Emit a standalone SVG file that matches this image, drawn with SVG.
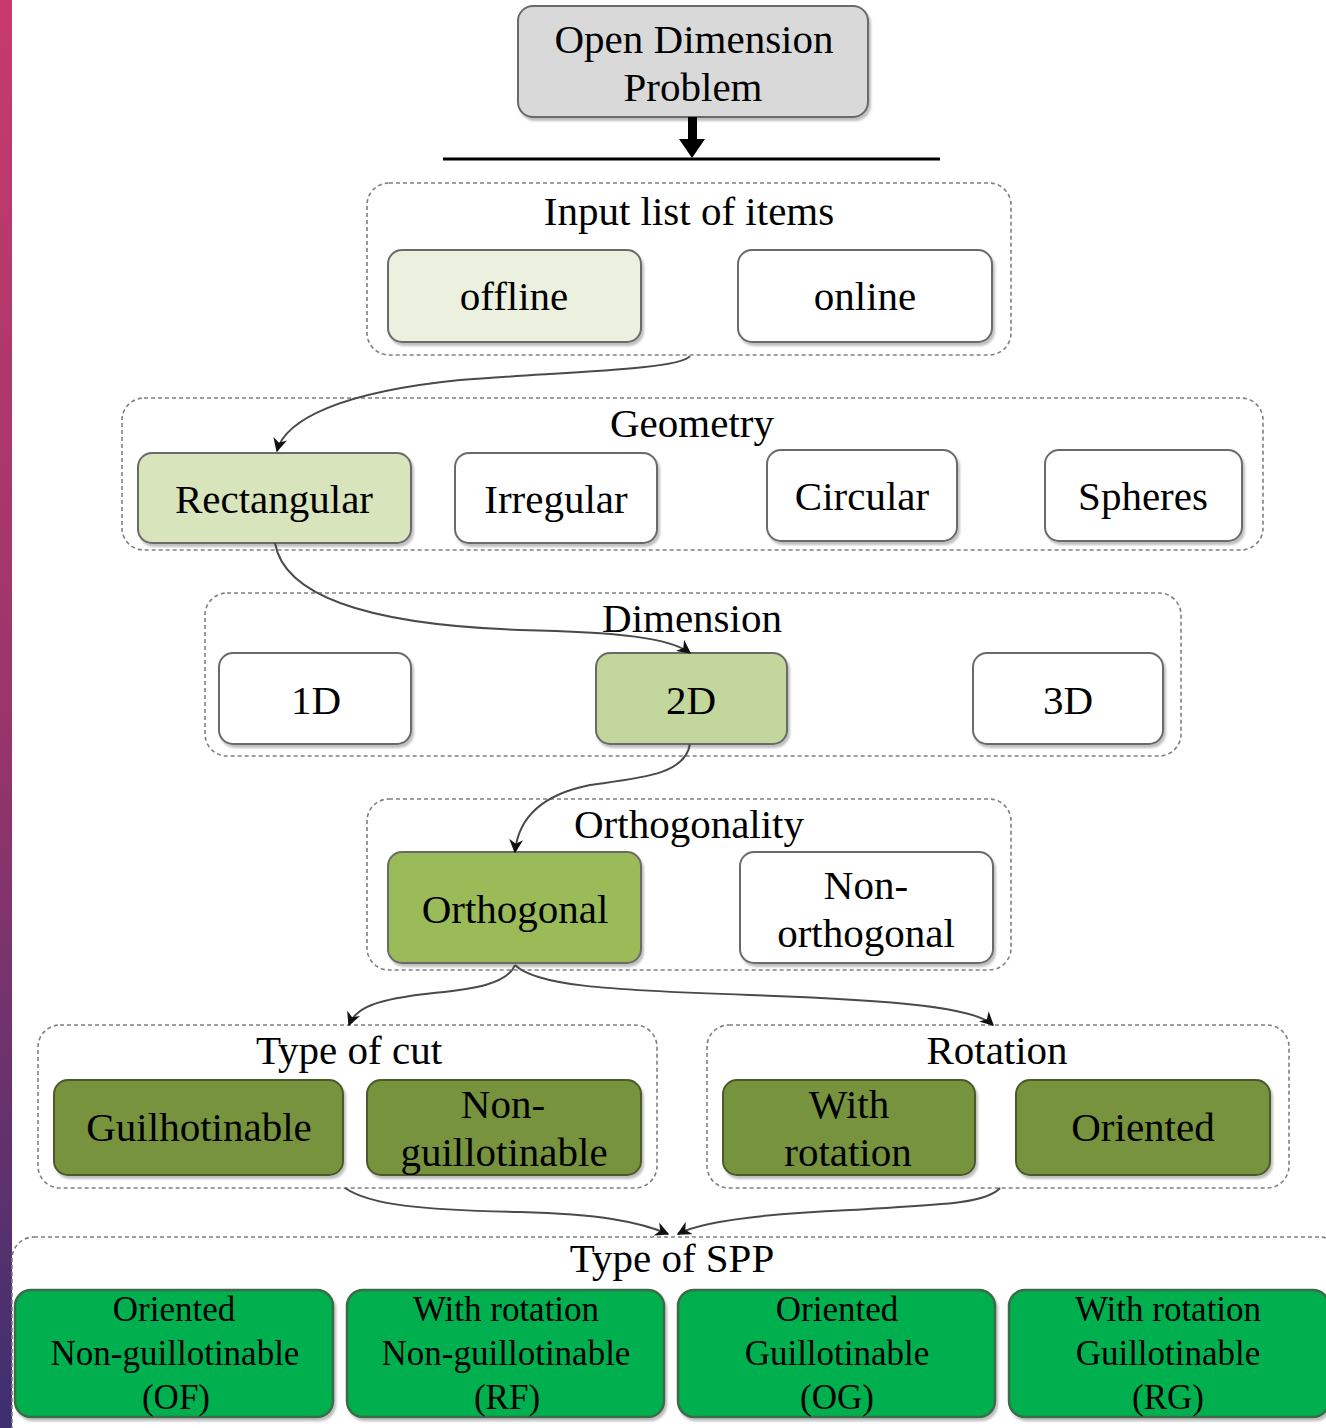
<svg xmlns="http://www.w3.org/2000/svg" width="1326" height="1428" viewBox="0 0 1326 1428">
<defs>
<linearGradient id="strip" x1="0" y1="0" x2="0" y2="1">
<stop offset="0" stop-color="#c83a6c"/>
<stop offset="0.5" stop-color="#9a356a"/>
<stop offset="1" stop-color="#3d2f70"/>
</linearGradient>
<filter id="sh" x="-5%" y="-5%" width="112%" height="115%">
<feDropShadow dx="2" dy="3" stdDeviation="1" flood-color="#000" flood-opacity="0.25"/>
</filter>
<marker id="arr" viewBox="0 0 10 10" refX="9" refY="5" markerWidth="14" markerHeight="14" markerUnits="userSpaceOnUse" orient="auto">
<path d="M0,0 L10,5 L0,10 L3,5 Z" fill="#111"/>
</marker>
<style>
text{font-family:"Liberation Serif","Times New Roman",serif;fill:#000;text-anchor:middle}
.t{font-size:41px}
.s{font-size:35px}
.grp{fill:none;stroke:#808080;stroke-width:1.6;stroke-dasharray:4 3}
.n{stroke:#6a6a6a;stroke-width:2;filter:url(#sh)}
.dk{stroke:#4b5a2c;stroke-width:2;filter:url(#sh)}
.bg{fill:#00b050;stroke:#3d6b4a;stroke-width:2.5;filter:url(#sh)}
.c{fill:none;stroke:#4a4a4a;stroke-width:2;marker-end:url(#arr)}
</style>
</defs>
<rect width="1326" height="1428" fill="#fff"/>
<rect x="0" y="0" width="12" height="1428" fill="url(#strip)"/>

<g id="groups">
<rect id="g-input" class="grp" x="367" y="183" width="644" height="172" rx="22"/>
<text class="t" x="689" y="225">Input list of items</text>
<rect id="g-geometry" class="grp" x="122" y="398" width="1141" height="152" rx="22"/>
<text class="t" x="692" y="437">Geometry</text>
<rect id="g-dimension" class="grp" x="205" y="593" width="976" height="163" rx="22"/>
<text class="t" x="692" y="632">Dimension</text>
<rect id="g-orth" class="grp" x="367" y="799" width="644" height="171" rx="22"/>
<text class="t" x="689" y="838">Orthogonality</text>
<rect id="g-cut" class="grp" x="38" y="1025" width="619" height="163" rx="22"/>
<text class="t" x="349" y="1064">Type of cut</text>
<rect id="g-rot" class="grp" x="707" y="1025" width="582" height="163" rx="22"/>
<text class="t" x="997" y="1064">Rotation</text>
<rect id="g-spp" class="grp" x="12" y="1237" width="1330" height="220" rx="22"/>
<text class="t" x="672" y="1272">Type of SPP</text>
</g>

<g id="odp">
<rect class="n" x="518" y="6" width="350" height="111" rx="15" fill="#d9d9d9"/>
<text class="t" x="694" y="53">Open Dimension</text>
<text class="t" x="693" y="101">Problem</text>
</g>
<g id="top-arrow">
<rect x="688" y="117" width="9" height="25" fill="#000"/>
<polygon points="679,139 705,139 692,158" fill="#000"/>
<line x1="443" y1="159" x2="940" y2="159" stroke="#000" stroke-width="3"/>
</g>

<g id="offline"><rect class="n" x="388" y="250" width="253" height="92" rx="14" fill="#ebf1de"/><text class="t" x="514" y="310">offline</text></g>
<g id="online"><rect class="n" x="738" y="250" width="254" height="92" rx="14" fill="#fff"/><text class="t" x="865" y="310">online</text></g>

<g id="rectangular"><rect class="n" x="138" y="453" width="273" height="90" rx="14" fill="#d8e4bc"/><text class="t" x="274" y="513">Rectangular</text></g>
<g id="irregular"><rect class="n" x="455" y="453" width="202" height="90" rx="14" fill="#fff"/><text class="t" x="556" y="513">Irregular</text></g>
<g id="circular"><rect class="n" x="767" y="450" width="190" height="91" rx="14" fill="#fff"/><text class="t" x="862" y="510">Circular</text></g>
<g id="spheres"><rect class="n" x="1045" y="450" width="197" height="91" rx="14" fill="#fff"/><text class="t" x="1143" y="510">Spheres</text></g>

<g id="d1"><rect class="n" x="219" y="653" width="192" height="91" rx="14" fill="#fff"/><text class="t" x="316" y="714">1D</text></g>
<g id="d2"><rect class="n" x="596" y="653" width="191" height="91" rx="14" fill="#c3d69b"/><text class="t" x="691" y="714">2D</text></g>
<g id="d3"><rect class="n" x="973" y="653" width="190" height="91" rx="14" fill="#fff"/><text class="t" x="1068" y="714">3D</text></g>

<g id="orthogonal"><rect class="n" x="388" y="852" width="253" height="111" rx="14" fill="#9bbb59"/><text class="t" x="515" y="923">Orthogonal</text></g>
<g id="nonorth"><rect class="n" x="740" y="852" width="253" height="111" rx="14" fill="#fff"/><text class="t" x="866" y="899">Non-</text><text class="t" x="866" y="947">orthogonal</text></g>

<g id="guil"><rect class="dk" x="54" y="1080" width="289" height="95" rx="14" fill="#77933c"/><text class="t" x="199" y="1141">Guilhotinable</text></g>
<g id="nonguil"><rect class="dk" x="367" y="1080" width="274" height="95" rx="14" fill="#77933c"/><text class="t" x="503" y="1118">Non-</text><text class="t" x="504" y="1166">guillotinable</text></g>
<g id="withrot"><rect class="dk" x="723" y="1080" width="252" height="95" rx="14" fill="#77933c"/><text class="t" x="849" y="1118">With</text><text class="t" x="848" y="1166">rotation</text></g>
<g id="oriented"><rect class="dk" x="1016" y="1080" width="254" height="95" rx="14" fill="#77933c"/><text class="t" x="1143" y="1141">Oriented</text></g>

<g id="of"><rect class="bg" x="15" y="1290" width="318" height="127" rx="16"/><text class="s" x="174" y="1321">Oriented</text><text class="s" x="175" y="1365">Non-guillotinable</text><text class="s" x="176" y="1409">(OF)</text></g>
<g id="rf"><rect class="bg" x="347" y="1290" width="317" height="127" rx="16"/><text class="s" x="506" y="1321">With rotation</text><text class="s" x="506" y="1365">Non-guillotinable</text><text class="s" x="507" y="1409">(RF)</text></g>
<g id="og"><rect class="bg" x="678" y="1290" width="317" height="127" rx="16"/><text class="s" x="837" y="1321">Oriented</text><text class="s" x="837" y="1365">Guillotinable</text><text class="s" x="837" y="1409">(OG)</text></g>
<g id="rg"><rect class="bg" x="1009" y="1290" width="320" height="127" rx="16"/><text class="s" x="1168" y="1321">With rotation</text><text class="s" x="1168" y="1365">Guillotinable</text><text class="s" x="1168" y="1409">(RG)</text></g>

<g id="connectors">
<path class="c" d="M690,356 C680,370 560,372 460,380 C340,392 285,420 277,451"/>
<path class="c" d="M275,543 C285,600 380,625 520,630 C620,632 670,638 690,653"/>
<path class="c" d="M690,744 C685,775 640,778 590,785 C540,795 518,820 515,852"/>
<path class="c" d="M515,965 C505,990 450,990 410,996 C370,1002 355,1010 349,1025"/>
<path class="c" d="M515,965 C535,985 600,990 750,995 C900,1000 975,1008 993,1025"/>
<path class="c" d="M345,1188 C370,1205 420,1210 520,1212 C600,1214 640,1222 668,1234"/>
<path class="c" d="M1000,1188 C985,1205 930,1205 850,1210 C760,1214 700,1222 678,1234"/>
</g>
</svg>
